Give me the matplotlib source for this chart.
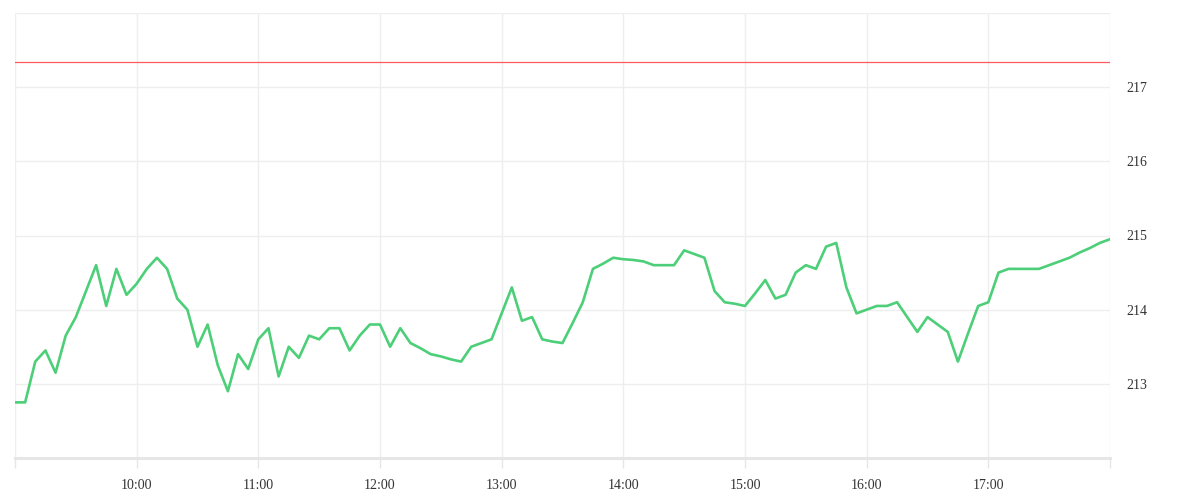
import numpy as np
import pandas as pd
import matplotlib.pyplot as plt
import matplotlib.dates as mdates
from matplotlib.ticker import FixedLocator, FuncFormatter

# 5-minute prices, 09:00 .. 18:00
times = pd.date_range('2024-01-02 09:00', '2024-01-02 18:00', freq='5min')
prices = [
    212.75, 212.75, 213.30, 213.45, 213.15, 213.65, 213.90, 214.25, 214.60, 214.05,
    214.55, 214.20, 214.35, 214.55, 214.70, 214.55, 214.15, 214.00, 213.50, 213.80,
    213.25, 212.90, 213.40, 213.20, 213.60, 213.75, 213.10, 213.50, 213.35, 213.65,
    213.60, 213.75, 213.75, 213.45, 213.65, 213.80, 213.80, 213.50, 213.75, 213.55,
    213.48, 213.40, 213.37, 213.33, 213.30, 213.50, 213.55, 213.60, 213.95, 214.30,
    213.85, 213.90, 213.60, 213.57, 213.55, 213.82, 214.10, 214.55, 214.62, 214.70,
    214.68, 214.67, 214.65, 214.60, 214.60, 214.60, 214.80, 214.75, 214.70, 214.25,
    214.10, 214.08, 214.05, 214.22, 214.40, 214.15, 214.20, 214.50, 214.60, 214.55,
    214.85, 214.90, 214.30, 213.95, 214.00, 214.05, 214.05, 214.10, 213.90, 213.70,
    213.90, 213.80, 213.70, 213.30, 213.68, 214.05, 214.10, 214.50, 214.55, 214.55,
    214.55, 214.55, 214.60, 214.65, 214.70, 214.77, 214.83, 214.90, 214.95,
]
prev_close = 217.34
y_ticks = [212, 213, 214, 215, 216, 217, 218]
y_labels = ['', '213', '214', '215', '216', '217', '']
x_hours = pd.date_range('2024-01-02 09:00', '2024-01-02 18:00', freq='1h')

plt.rcParams['font.family'] = ['Liberation Serif', 'DejaVu Serif']

fig = plt.figure(figsize=(12, 5), dpi=100, facecolor='white')
ax = fig.add_axes([15 / 1200, 42 / 500, 1095 / 1200, 445 / 500])

ax.plot(times, prices, color='#4ccf78', linewidth=1.9, solid_joinstyle='round', zorder=3)
ax.axhline(prev_close, color='#ff5a5f', linewidth=0.9, zorder=2)

ax.set_xlim(x_hours[0], x_hours[-1])
ax.set_ylim(212, 218)

ax.xaxis.set_major_locator(FixedLocator(mdates.date2num(x_hours)))
hour_labels = ['' if h in (9, 18) else '%d:00' % h for h in x_hours.hour]
ax.xaxis.set_major_formatter(FuncFormatter(lambda v, pos: hour_labels[pos] if pos is not None and pos < len(hour_labels) else ''))

ax.yaxis.tick_right()
ax.set_yticks(y_ticks)
ax.set_yticklabels(y_labels)

ax.grid(True, color='#eeeeee', linewidth=1.0, zorder=0)
ax.tick_params(axis='y', length=0, pad=12, labelsize=10, labelcolor='#333333')
ax.tick_params(axis='x', length=7, width=1, color='#e6e6e6', pad=8, labelsize=10, labelcolor='#333333')

for side in ('top', 'left', 'right'):
    ax.spines[side].set_visible(False)
ax.spines['bottom'].set_color('#e6e6e6')
ax.spines['bottom'].set_linewidth(2.2)

fig.savefig('out.png', dpi=100, facecolor='white')
